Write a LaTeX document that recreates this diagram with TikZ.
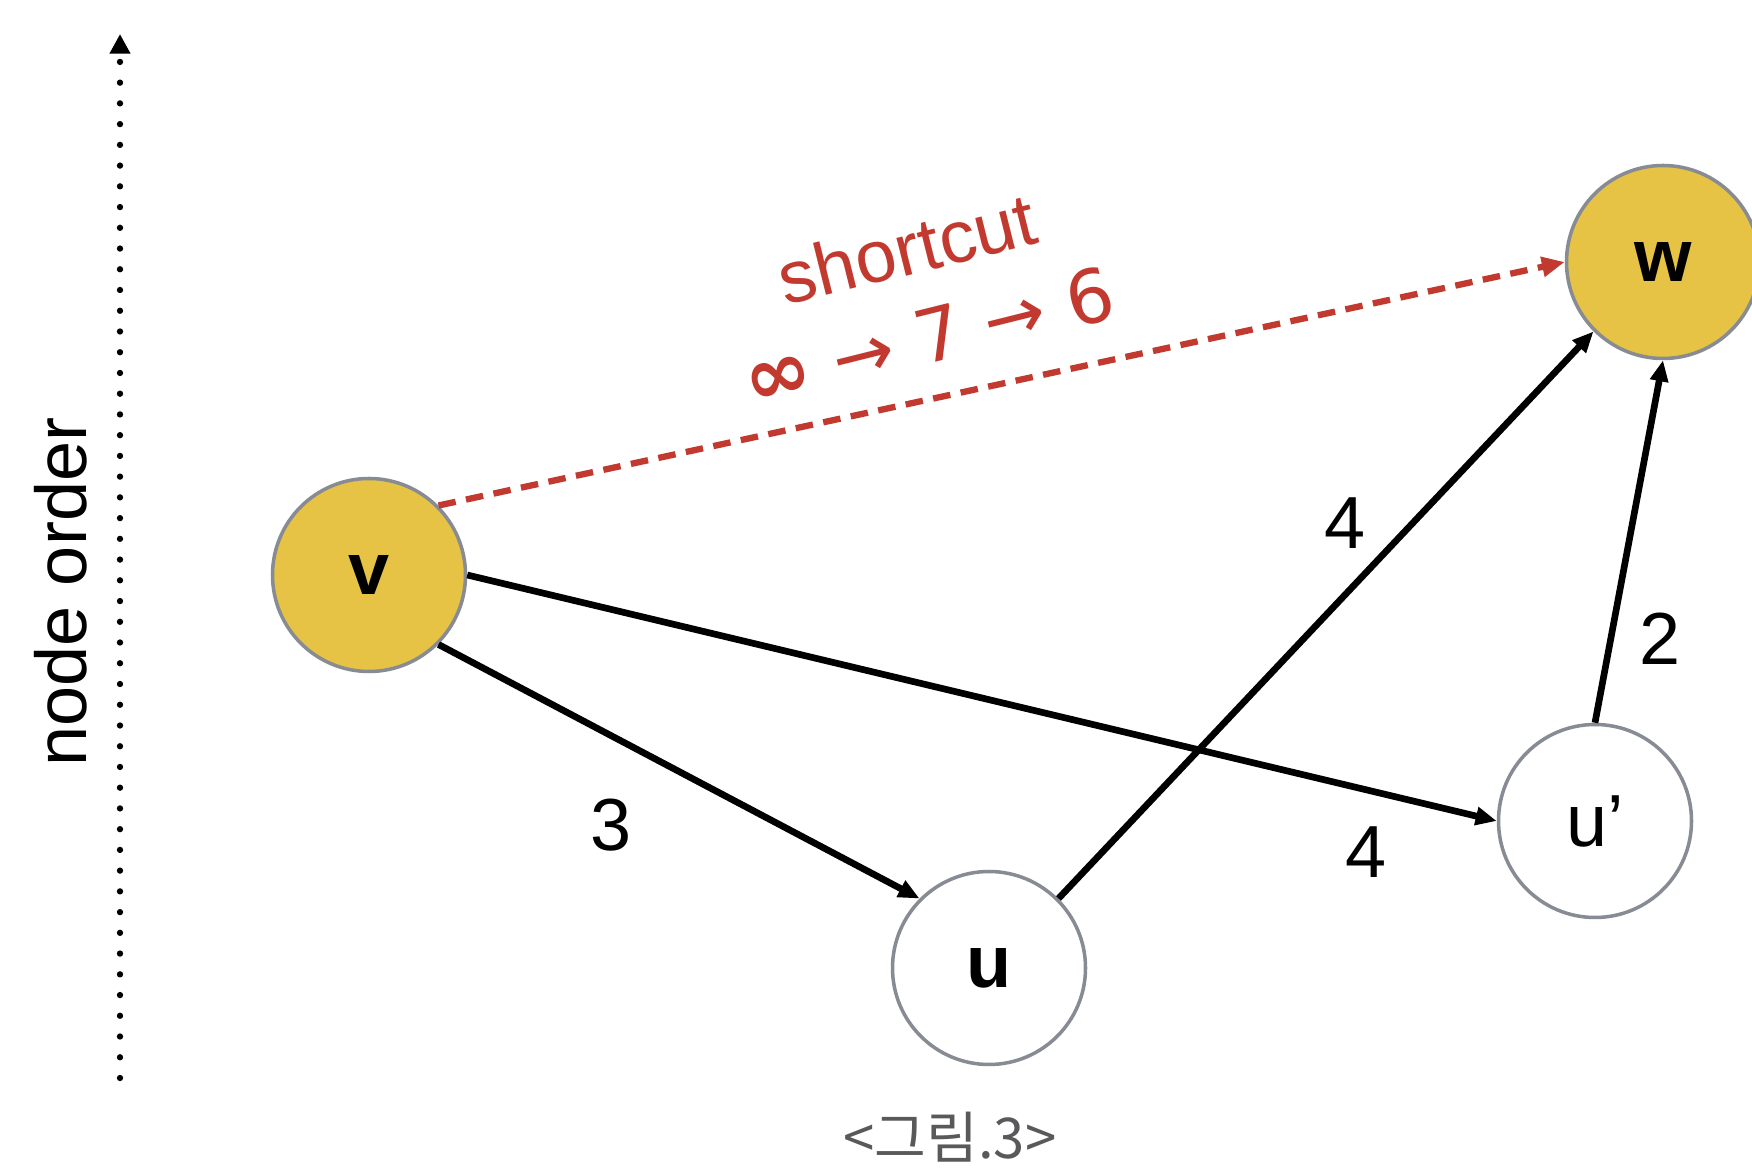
\documentclass[tikz,border=0pt]{standalone}
\usepackage{fontspec}
\setmainfont{Liberation Sans}
\newfontfamily\kofont{Noto Sans CJK KR}
\newfontfamily\symfont{DejaVu Sans}
\usetikzlibrary{arrows.meta}
\definecolor{Gold}{HTML}{E6C245}
\definecolor{Rim}{HTML}{878B93}
\definecolor{Cut}{HTML}{C2392F}
\definecolor{Cap}{HTML}{59595B}

\begin{document}
\begin{tikzpicture}[
  vert/.style={circle,draw=Rim,line width=1pt,minimum size=1.93cm,inner sep=0pt,
    font=\fontsize{21}{25}\selectfont\bfseries},
  hot/.style={vert,fill=Gold},
  cold/.style={vert,fill=white},
  edge/.style={-{Triangle[length=6pt,width=5pt]},line width=1.9pt,black},
  wt/.style={font=\fontsize{21}{25}\selectfont},
  sc/.style={text=Cut,font=\fontsize{21}{26}\selectfont,rotate=14,align=center}]
  \useasboundingbox (0,0) rectangle (17.52,-11.73);
  \clip (0,0) rectangle (17.52,-11.73);

  % order axis
  \coordinate (lo) at (1.20,-10.78);
  \coordinate (hi) at (1.20,-0.34);
  \draw[line width=1.8pt,line cap=round,dash pattern=on 0pt off 5.9pt,
    -{Triangle[length=5.6pt,width=5.6pt]}] (lo) -- (hi);
  \node[rotate=90,font=\fontsize{20.5}{24}\selectfont] (ord) at (0.61,-5.92) {node order};

  % vertices
  \node[hot] (v) at (3.69,-5.75) {v};
  \node[hot] (w) at (16.63,-2.62) {w};
  \node[cold] (u) at (9.89,-9.68) {u};
  \node[cold,font=\fontsize{21}{25}\selectfont] (u2) at (15.95,-8.21) {u’};

  % edges
  \draw[edge] (v.east) -- (u2.west);
  \draw[edge] (v.-45) -- (u.135);
  \draw[edge] (u.45) -- (w.225);
  \draw[edge] (u2.north) -- (w.south);
  \draw[-{Triangle[length=6.5pt,width=5.5pt]},Cut,line width=1.8pt,
    dash pattern=on 5pt off 3pt] (v.45) -- (w.west);

  % weights
  \node[wt] (a) at (6.11,-8.25) {3};
  \node[wt] (b) at (13.45,-5.23) {4};
  \node[wt] (c) at (13.66,-8.52) {4};
  \node[wt] (d) at (16.60,-6.39) {2};

  \node[sc] (cut) at (9.18,-2.93)
    {shortcut\\{\symfont{\fontsize{23}{23}\selectfont\bfseries ∞} → 7 → 6}};

  \node[text=Cap,font=\kofont\fontsize{16}{20}\selectfont] (cap) at (9.50,-11.37) {<그림.3>};
\end{tikzpicture}
\end{document}
